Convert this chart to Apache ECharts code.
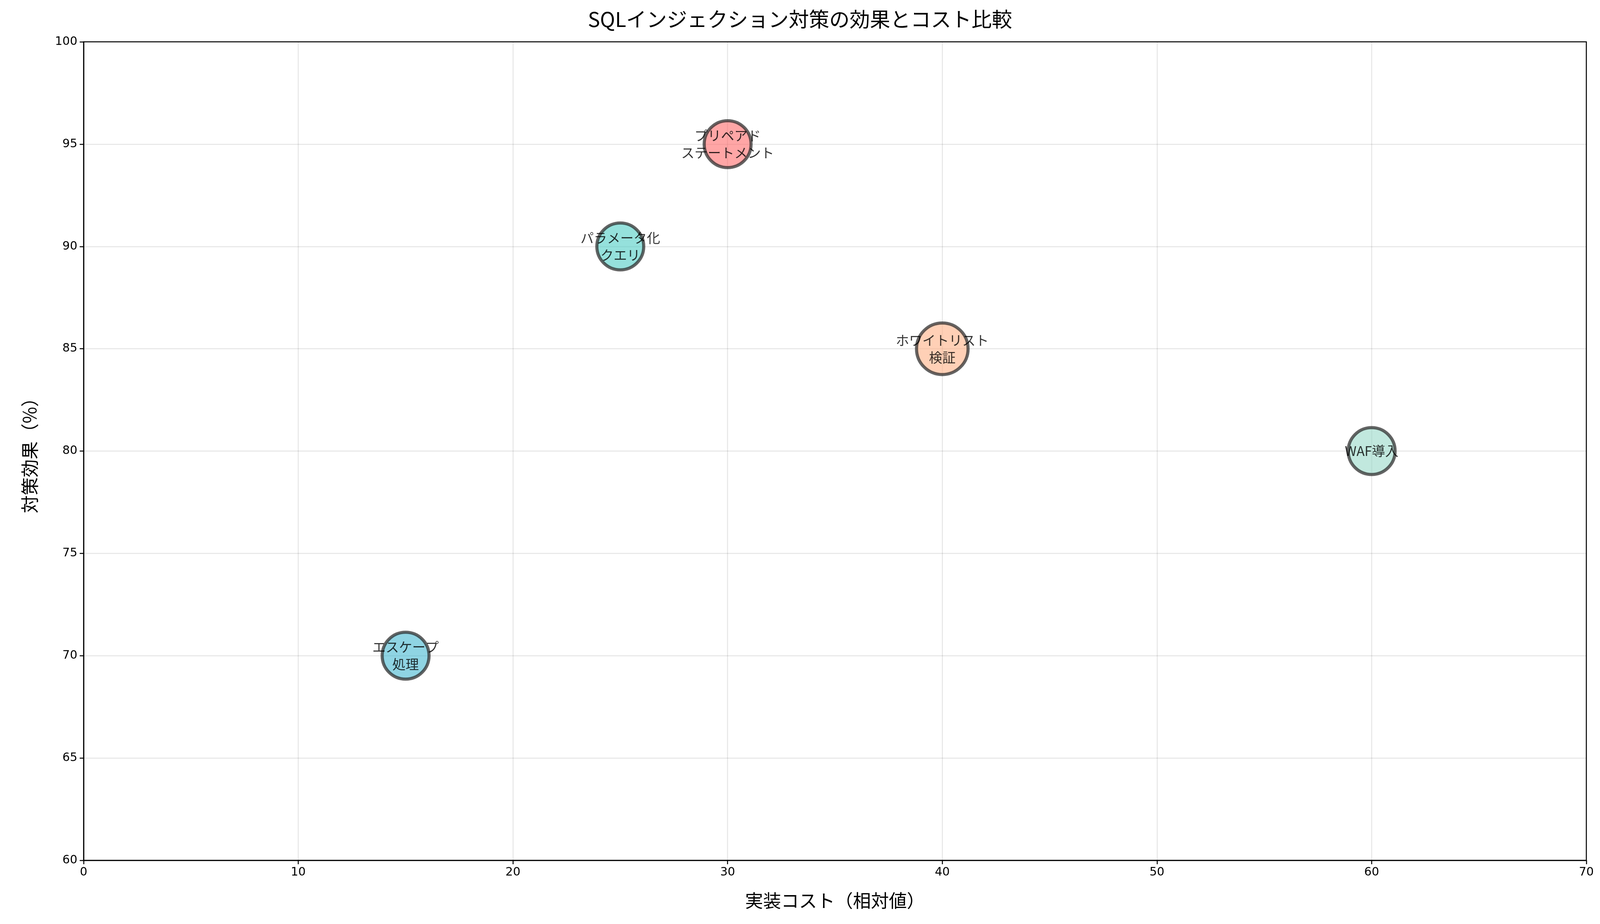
<!DOCTYPE html>
<html><head><meta charset="utf-8">
<script src="https://cdn.jsdelivr.net/npm/echarts@6/dist/echarts.min.js"></script>
<style>html,body{margin:0;padding:0;background:#fff;overflow:hidden}#c{width:100vw;height:100vh}</style>
</head><body><div id="c"></div>
<script>
const names = ['プリペアド\nステートメント','パラメータ化\nクエリ','エスケープ\n処理','WAF導入','ホワイトリスト\n検証'];
const costs = [30, 25, 15, 60, 40];
const effects = [95, 90, 70, 80, 85];
const colors = ['#FF6B6B','#4ECDC4','#45B7D1','#98D8C8','#FFA07A'];
const xTicks = [0,10,20,30,40,50,60,70];
const yTicks = [60,65,70,75,80,85,90,95,100];
const font = '"Noto Sans CJK JP","DejaVu Sans",sans-serif';
const chart = echarts.init(document.getElementById('c'));
chart.setOption({
  backgroundColor:'#fff',
  title:{text:'SQLインジェクション対策の効果とコスト比較',left:'center',top:18,textStyle:{fontFamily:font,fontSize:52,fontWeight:'normal',color:'#000'}},
  grid:{left:214,right:35,top:107,bottom:163,show:true,borderColor:'#000',borderWidth:2.5,backgroundColor:'transparent'},
  xAxis:{type:'value',min:xTicks[0],max:xTicks[xTicks.length-1],interval:10,name:'実装コスト（相対値）',nameLocation:'middle',nameGap:80,
    nameTextStyle:{fontFamily:font,fontSize:46,color:'#000'},
    axisLine:{lineStyle:{color:'#000',width:2.5}},axisTick:{show:true,length:10,lineStyle:{color:'#000',width:2.5}},
    axisLabel:{fontFamily:'DejaVu Sans',fontSize:30,color:'#000',margin:16},
    splitLine:{show:true,lineStyle:{color:'#000',opacity:0.1,width:2.5}}},
  yAxis:{type:'value',min:yTicks[0],max:yTicks[yTicks.length-1],interval:5,name:'対策効果（%）',nameLocation:'middle',nameGap:115,
    nameTextStyle:{fontFamily:font,fontSize:46,color:'#000'},
    axisLine:{show:true,lineStyle:{color:'#000',width:2.5}},axisTick:{show:true,length:10,lineStyle:{color:'#000',width:2.5}},
    axisLabel:{fontFamily:'DejaVu Sans',fontSize:30,color:'#000',margin:16},
    splitLine:{show:true,lineStyle:{color:'#000',opacity:0.1,width:2.5}}},
  series:[{type:'scatter',symbolSize:120,
    data:names.map((n,i)=>({value:[costs[i],effects[i]],name:n,itemStyle:{color:echarts.color.modifyAlpha(colors[i],0.75)}})),
    itemStyle:{borderColor:'rgba(40,40,40,0.9)',borderWidth:8},
    label:{show:true,position:'inside',formatter:p=>p.name,fontFamily:font,fontSize:34,color:'#000',lineHeight:44}
  }]
});
</script></body></html>
